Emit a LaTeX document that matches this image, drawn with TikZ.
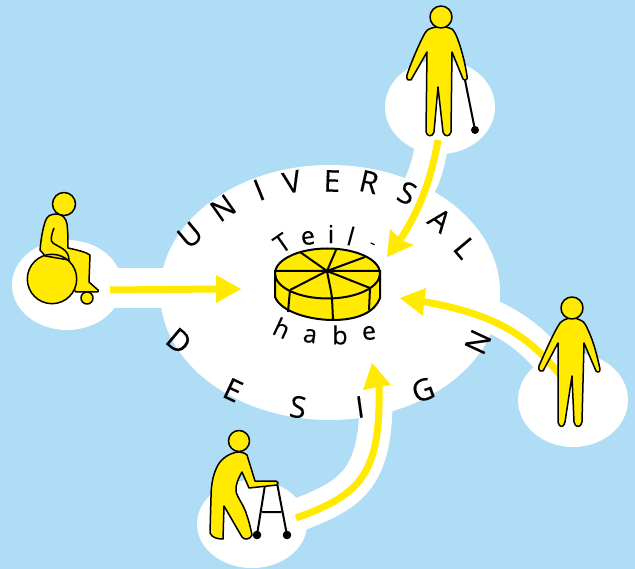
\documentclass[tikz,border=0pt]{standalone}
\usepackage{fontspec}
\setmainfont{Open Sans}
\newfontfamily\lett[FakeBold=0.1]{Open Sans}
\definecolor{sky}{HTML}{AFDDF5}
\definecolor{ylw}{HTML}{FFEA00}
\tikzset{
 x=1pt,y=-1pt,
 blob/.style={fill=white,draw=none},
 fig/.style={fill=ylw,draw=black,line width=1.5pt,line join=round},
 arrowline/.style={draw=ylw,line width=7pt},
 arrowhd/.style={fill=ylw,draw=none},
 halo/.style={draw=white,line width=33pt},
 bigl/.style={font=\lett\fontsize{30}{30}\selectfont,inner sep=0pt},
 smalll/.style={font=\lett\fontsize{25}{25}\selectfont,inner sep=0pt},
 pie/.style={draw=black,line width=2pt},
}
\begin{document}
\begin{tikzpicture}
\useasboundingbox (0,0) rectangle (635,569);
\fill[sky] (0,0) rectangle (635,569);
% white blobs and halos
\fill[blob] (330,292.5) ellipse (170 and 127.5);
\fill[blob] (440,107) ellipse (55 and 47);
\fill[blob] (67,285) ellipse (55 and 45);
\fill[blob] (573,400) ellipse (55 and 47);
\fill[blob] (252,524) ellipse (55 and 44);
\draw[halo] (432,135) .. controls (430,175) and (415,200) .. (385,235);
\draw[halo,line width=40pt] (100,288) -- (200,288);
\draw[halo] (560,375) .. controls (530,330) and (490,310) .. (440,300);
\draw[halo] (298,515) .. controls (350,495) and (376,480) .. (376,400);
% arrows
\coordinate (a1s) at (438,140); \coordinate (a1e) at (400,240);
\draw[arrowline] (a1s) .. controls (430,185) and (418,212) .. (a1e);
\fill[arrowhd] (387,257) -- (390,229) -- (401,240) -- (414,245) -- cycle;
\coordinate (a2s) at (110,290); \coordinate (a2e) at (220,289);
\draw[arrowline] (a2s) -- (a2e);
\fill[arrowhd] (241,289) -- (216,275) -- (216,303) -- cycle;
\coordinate (a3s) at (560,375); \coordinate (a3e) at (420,301);
\draw[arrowline] (a3s) .. controls (525,330) and (485,312) .. (a3e);
\fill[arrowhd] (400,298) -- (426,288) -- (424,302) -- (423,316) -- cycle;
\coordinate (a4s) at (296,518); \coordinate (a4e) at (379,386);
\draw[arrowline] (a4s) .. controls (360,495) and (381,475) .. (a4e);
\fill[arrowhd] (372,363) -- (363,390) -- (378,387) -- (391,385) -- cycle;
% standing person with cane
\draw[black,line width=2pt] (465,80) -- (475,130);
\fill[black] (475,130) circle (4);
\draw[fig] (432,28) .. controls (428,29) and (426,31) .. (425,33) .. controls (420,42) and (412,60) .. (407,75) .. controls (406,80) and (409,81) .. (411,80) -- (427,52)
 -- (426,132) .. controls (427,137) and (433,137) .. (434,132) -- (438,87) -- (443,132) .. controls (444,137) and (450,137) .. (451,132)
 -- (452,52) -- (463,79) .. controls (465,81) and (468,80) .. (467,76) .. controls (465,62) and (461,48) .. (458,40) .. controls (456,34) and (454,31) .. (452,29) .. controls (446,26) and (438,26) .. (432,28) -- cycle;
\draw[fig] (441,17) circle (11);
% wheelchair
\draw[fig] (57,214) .. controls (50,214) and (47,216) .. (45,222) .. controls (42,232) and (41,240) .. (40,250) -- (47,258) -- (76,292) -- (98,292) -- (98,290) -- (89,282) -- (90,255) .. controls (86,252) and (77,250) .. (68,248) .. controls (68,240) and (68,232) .. (67,224) .. controls (66,218) and (62,214) .. (57,214) -- cycle;
\draw[fig] (64,204) circle (11.5);
\draw[fig] (87,298) circle (6);
\draw[fig] (52,279) circle (24.7);
\draw[black,line width=1.5pt] (54,228) .. controls (51,236) and (50,241) .. (53,243) .. controls (58,247) and (69,249) .. (69,260) -- (45,256);
% walker person
\draw[black,line width=2pt] (265,485) -- (257,535) (277,483) -- (287,535) (262,512) -- (281,512);
\fill[black] (257,535) circle (4.3) (287,535) circle (4.3);
\draw[fig] (238,452) .. controls (230,453) and (222,458) .. (218,465) .. controls (213,474) and (211,485) .. (211,497) -- (210,533) .. controls (212,538) and (218,539) .. (223,539) -- (224,506) -- (242,537) .. controls (244,540) and (250,540) .. (252,535) .. controls (250,525) and (248,518) .. (245,510) .. controls (242,503) and (238,498) .. (236,492) .. controls (235,485) and (239,477) .. (242,472) -- (249,488) -- (277,485) .. controls (279,484) and (278,481) .. (276,481) -- (255,481) -- (247,455) .. controls (245,453) and (241,452) .. (238,452) -- cycle;
\draw[fig] (239,441) circle (10.5);
% person right
\draw[fig] (572,318) .. controls (567,318) and (563,320) .. (560,323) .. controls (555,330) and (546,350) .. (539,366) .. controls (538,371) and (541,372) .. (543,371) -- (558,343)
 -- (558,422) .. controls (559,428) and (564,428) .. (565,422) -- (572,376) -- (574,422) .. controls (575,428) and (581,428) .. (582,422)
 -- (584,343) -- (596,371) .. controls (598,373) and (600,372) .. (600,369) .. controls (597,355) and (593,340) .. (588,330) .. controls (586,325) and (584,322) .. (582,321) .. controls (579,319) and (576,318) .. (572,318) -- cycle;
\draw[fig] (572,308) circle (11);
% pie
\draw[pie,fill=ylw] (275,271) -- (275,297) .. controls (281,312) and (310,320) .. (333,320) .. controls (358,320) and (375,312) .. (380,298) -- (380,271) -- cycle;
\draw[pie,fill=ylw] (327.5,273.5) ellipse (52.5 and 25);
\coordinate (c) at (327,271);
\draw[pie] (c) -- (275,271) (c) -- (300,252) (c) -- (336,250) (c) -- (365,257) (c) -- (380,271) (c) -- (370,288) (c) .. controls (329,282) and (331,290) .. (332,298) (c) -- (290,290);
\draw[pie] (290,290) -- (288,312) (332,298) -- (333,320) (370,288) -- (369,310);
% pie labels
\node[smalll,rotate=35] (t1) at (282,243) {T};
\node[smalll,rotate=8] (t2) at (308,238) {e};
\node[smalll,rotate=0] (t3) at (331,234) {i};
\node[smalll,rotate=-15] (t4) at (351,236) {l};
\node[font=\fontsize{18}{18}\selectfont,inner sep=0pt,rotate=-25] (t5) at (372,246) {-};
\node[smalll,rotate=-25] (h1) at (282,328) {h};
\node[smalll,rotate=-8] (h2) at (310,336) {a};
\node[smalll] (h3) at (340,335) {b};
\node[smalll,rotate=5] (h4) at (369,333) {e};
% big letters
\node[bigl,rotate=40] (u1) at (190,235) {U};
\node[bigl,rotate=35] (u2) at (223,208) {N};
\node[bigl,rotate=22] (u3) at (259,190) {I};
\node[bigl,rotate=12] (u4) at (292,182) {V};
\node[bigl,rotate=-2] (u5) at (332,181) {E};
\node[bigl,rotate=-13] (u6) at (369,182) {R};
\node[bigl,rotate=-25] (u7) at (407,193) {S};
\node[bigl,rotate=-38] (u8) at (440,220) {A};
\node[bigl,rotate=-50] (u9) at (465,248) {L};
\node[bigl,rotate=-40] (d1) at (179,341) {D};
\node[bigl,rotate=-25] (d2) at (233,390) {E};
\node[bigl,rotate=-8] (d3) at (298,407) {S};
\node[bigl,rotate=8] (d4) at (360,407) {I};
\node[bigl,rotate=20] (d5) at (423,390) {G};
\node[bigl,rotate=65] (d6) at (478,342) {N};
\end{tikzpicture}
\end{document}
